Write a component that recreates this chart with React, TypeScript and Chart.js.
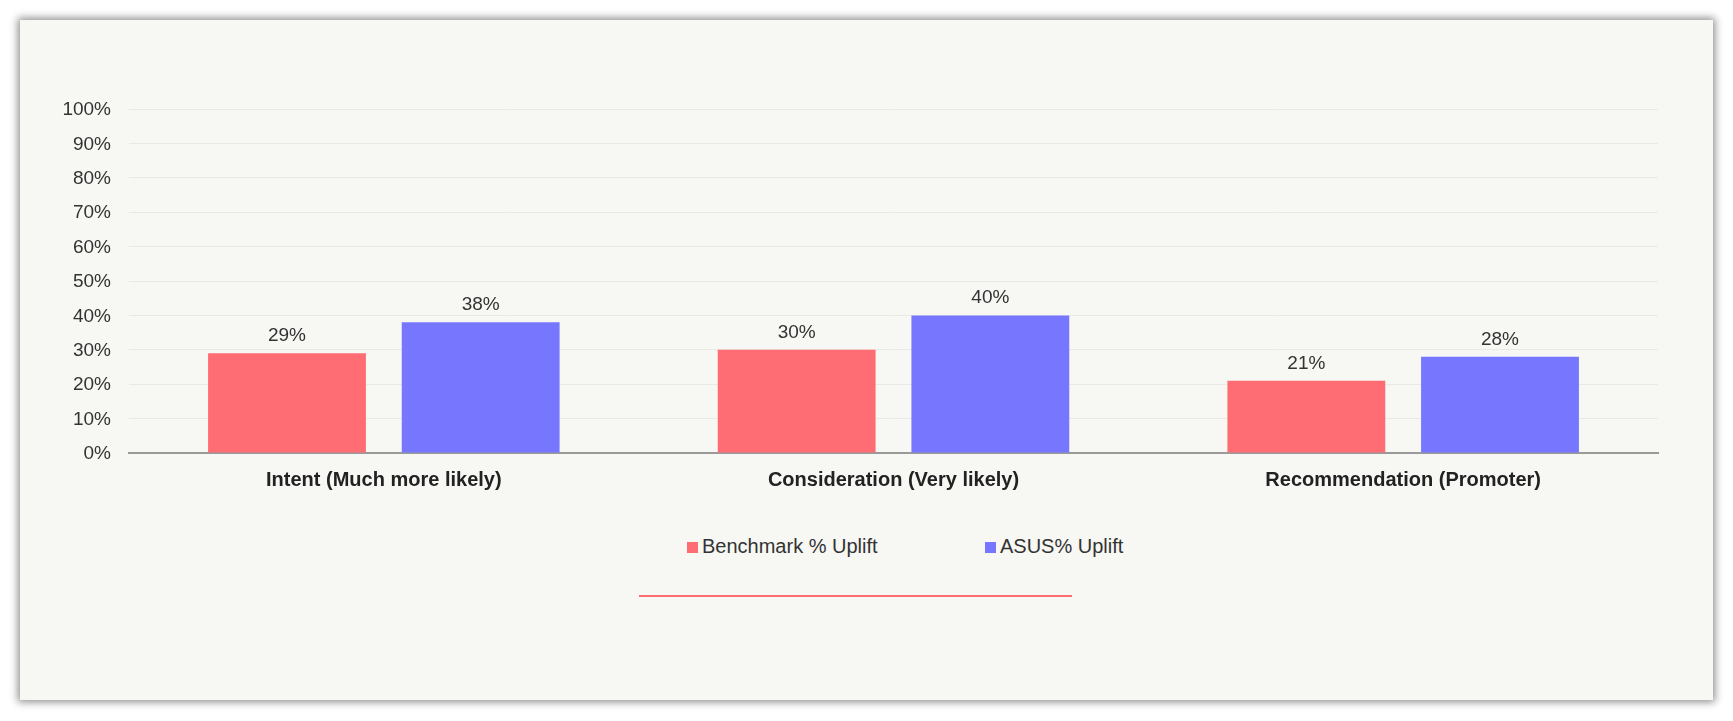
import React, { useEffect, useRef } from "react";
import { Chart, registerables } from "chart.js";

Chart.register(...registerables);

const categories = [
  "Intent (Much more likely)",
  "Consideration (Very likely)",
  "Recommendation (Promoter)",
];
const benchmarkUplift = [29, 30, 21];
const asusUplift = [38, 40, 28];
const seriesNames = ["Benchmark % Uplift", "ASUS% Uplift"];
const seriesColors = ["#ff6d74", "#7676fe"];
const yMin = 0;
const yMax = 100;
const yStep = 10;

const FONT = '"Liberation Sans", Arial, Helvetica, sans-serif';

export default function App() {
  const ref = useRef<HTMLCanvasElement | null>(null);

  useEffect(() => {
    if (!ref.current) return;
    const valueLabels = {
      id: "valueLabels",
      afterDatasetsDraw(chart: any) {
        const ctx = chart.ctx;
        ctx.save();
        ctx.font = `19px ${FONT}`;
        ctx.fillStyle = "#333333";
        ctx.textAlign = "center";
        ctx.textBaseline = "alphabetic";
        chart.data.datasets.forEach((ds: any, i: number) => {
          const meta = chart.getDatasetMeta(i);
          meta.data.forEach((el: any, j: number) => {
            ctx.fillText(`${ds.data[j]}%`, el.x, el.y - 12);
          });
        });
        ctx.restore();
      },
    };

    const chart = new Chart(ref.current, {
      type: "bar",
      data: {
        labels: categories,
        datasets: [
          {
            label: seriesNames[0],
            data: benchmarkUplift,
            backgroundColor: seriesColors[0],
            categoryPercentage: 0.76,
            barPercentage: 0.815,
          },
          {
            label: seriesNames[1],
            data: asusUplift,
            backgroundColor: seriesColors[1],
            categoryPercentage: 0.76,
            barPercentage: 0.815,
          },
        ],
      },
      options: {
        animation: false,
        responsive: true,
        maintainAspectRatio: false,
        layout: { padding: { left: 39, right: 55, top: 89, bottom: 17 } },
        plugins: {
          legend: { display: false },
          tooltip: { enabled: false },
        },
        scales: {
          x: {
            grid: { display: false, drawTicks: false },
            border: { display: true, color: "#9a9a9a", width: 2 },
            ticks: {
              padding: 15,
              color: "#222222",
              font: { family: FONT, size: 20, weight: "bold" },
            },
            afterFit: (scale: any) => {
              scale.height = 50;
            },
          },
          y: {
            min: yMin,
            max: yMax,
            grid: { color: "#e9e9e5", lineWidth: 1, drawTicks: false },
            border: { display: false },
            ticks: {
              stepSize: yStep,
              padding: 18,
              labelOffset: 1,
              color: "#333333",
              font: { family: FONT, size: 19 },
              callback: (v: any) => `${v}%`,
            },
            afterFit: (scale: any) => {
              scale.width = 70;
            },
          },
        },
      },
      plugins: [valueLabels],
    });
    return () => chart.destroy();
  }, []);

  return (
    <div style={{ position: "fixed", inset: 0, background: "#ffffff", fontFamily: FONT }}>
      <div
        style={{
          position: "absolute",
          left: 20,
          top: 20,
          width: 1693,
          height: 680,
          background: "#f7f7f3",
          boxShadow: "0 0 8px 2px rgba(0,0,0,0.45)",
        }}
      />
      <div style={{ position: "absolute", left: 20, top: 20, width: 1693, height: 500 }}>
        <canvas ref={ref} />
      </div>
      {seriesNames.map((name, i) => {
        const left = i === 0 ? 687 : 985;
        return (
          <React.Fragment key={name}>
            <div
              style={{
                position: "absolute",
                left,
                top: 542,
                width: 11,
                height: 11,
                background: seriesColors[i],
              }}
            />
            <div
              style={{
                position: "absolute",
                left: left + 15,
                top: 534,
                fontSize: 20,
                lineHeight: "24px",
                color: "#333333",
                whiteSpace: "nowrap",
              }}
            >
              {name}
            </div>
          </React.Fragment>
        );
      })}
      <div
        style={{
          position: "absolute",
          left: 639,
          top: 595,
          width: 433,
          height: 2,
          background: seriesColors[0],
        }}
      />
    </div>
  );
}
